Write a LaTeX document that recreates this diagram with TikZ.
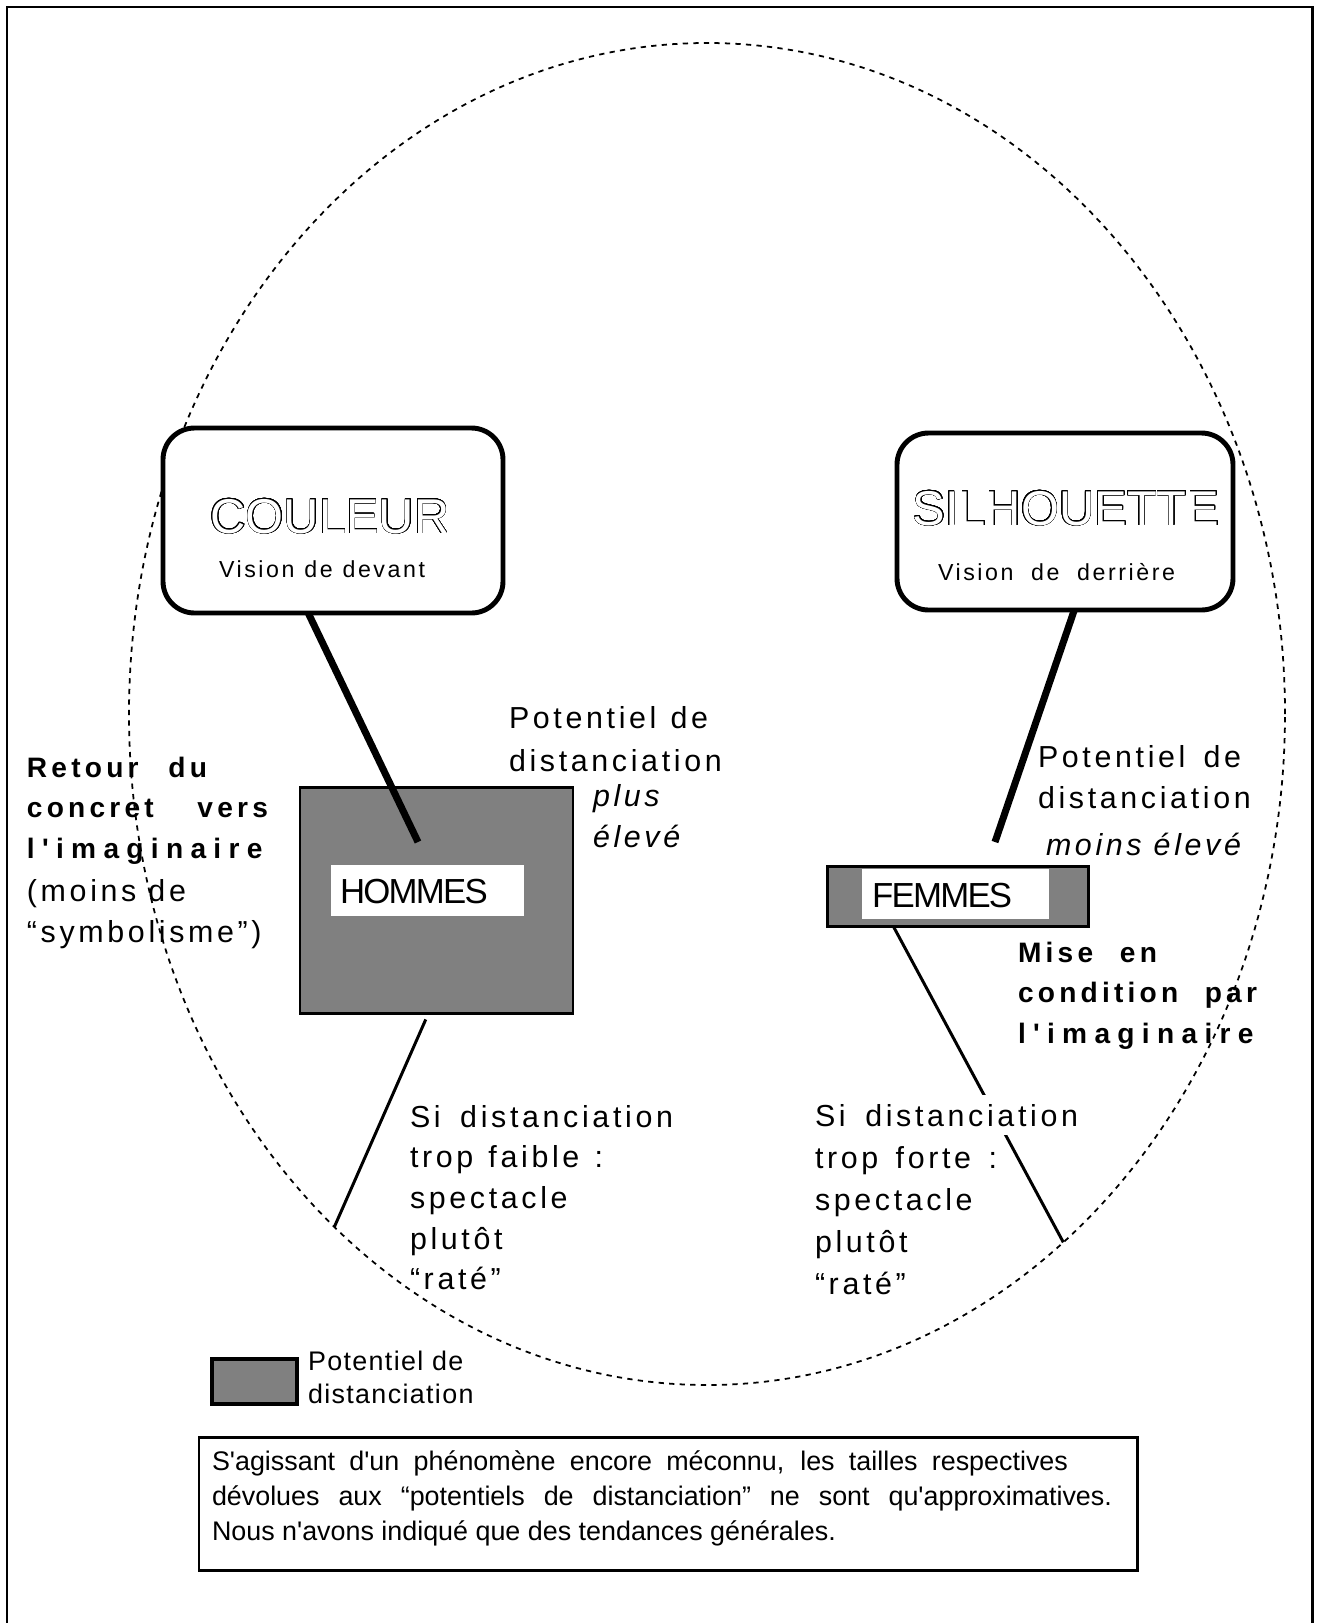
\documentclass[tikz,border=0pt]{standalone}
\usepackage{fontspec}
\usepackage{contour}
\usetikzlibrary{shapes.geometric,fit}

% Liberation Sans in several trackings
\newfontfamily\plainsans{Liberation Sans}
\newfontfamily\spaced[LetterSpace=12]{Liberation Sans}
\newfontfamily\widesp[LetterSpace=15]{Liberation Sans}
\newfontfamily\widersp[LetterSpace=26]{Liberation Sans}
\newfontfamily\lightsp[LetterSpace=11]{Liberation Sans}
\newfontfamily\tightsp[LetterSpace=-5]{Liberation Sans}
\newfontfamily\legendsp[LetterSpace=5]{Liberation Sans}

\definecolor{potgray}{HTML}{808080}

% one drawing unit
\newdimen\pxu \pxu=0.02cm
% stacked lines, baseline of the block = baseline of its first line
\newcommand\lines[2]{\vtop{\baselineskip=#1\pxu\lineskiplimit=-100pt\lineskip=0pt #2}}

\contourlength{0.38pt}
\contournumber{32}

\newcommand\textsize{\fontsize{17.3}{20}\selectfont}
\newcommand\boldsize{\fontsize{16}{20}\selectfont}

\tikzset{
  bubble/.style={draw, line width=2.8pt, rounded corners=18pt, fill=white, inner sep=0pt, outer sep=0pt},
  potential/.style={draw, line width=1.7pt, fill=potgray, inner sep=0pt, outer sep=0pt},
  tagbox/.style={fill=white, inner sep=0pt, outer sep=0pt},
  notebox/.style={draw, line width=1.7pt, inner sep=0pt, outer sep=0pt},
  oval/.style={draw, ellipse, line width=1pt, dash pattern=on 3pt off 3pt, inner sep=0pt, outer sep=0pt},
  heavy link/.style={line width=4pt},
  thin link/.style={line width=1.7pt},
  txt/.style={inner sep=0pt, outer sep=0pt, anchor=base west},
}

\begin{document}
\begin{tikzpicture}[x=0.02cm, y=-0.02cm]
\useasboundingbox (0,0) rectangle (1317,1623);

% outer frame
\draw[line width=1.7pt] (7,1623) -- (7,7) -- (1312,7) -- (1312,1623);

% dashed oval
\node[oval, minimum width=1156\pxu, minimum height=1342\pxu] (ring) at (707,714) {};

% the two rounded boxes
\node[bubble, fit={(163,428) (503,613)}] (couleur) {};
\node[bubble, fit={(897,433) (1233,610)}] (silhouette) {};

\node[txt, anchor=base] (couleurtitle) at (330,533)
  {\plainsans\fontsize{27.8}{30}\selectfont\color{white}\contour{black}{COULEUR}};
\node[txt] (couleursub) at (219,577)
  {\lightsp\fontsize{13.2}{16}\selectfont\hbox to 206\pxu{Vision\hfil de\hfil devant}};

\node[txt, anchor=base] (silhouettetitle) at (1066,525)
  {\plainsans\fontsize{27.8}{30}\selectfont\color{white}\contour{black}{SILHOUETTE}};
\node[txt] (silhouettesub) at (938,580)
  {\lightsp\fontsize{13.2}{16}\selectfont\hbox to 237\pxu{Vision\hfil de\hfil derrière}};

% potentials
\node[potential, fit={(300,787) (573,1013)}] (hommes) {};
\node[tagbox, fit={(331,865) (524,916)}] (hommestag) {};
\node[txt] (hommesname) at (340,903) {\tightsp\fontsize{19.8}{22}\selectfont HOMMES};

\node[potential, fit={(827,866) (1088,926)}] (femmes) {};
\node[tagbox, fit={(862,869) (1049,919)}] (femmestag) {};
\node[txt] (femmesname) at (872,907) {\tightsp\fontsize{19.8}{22}\selectfont FEMMES};

% connectors
\coordinate (hommesend) at (418,842);
\coordinate (femmesend) at (995,842);
\draw[heavy link] (couleur.255) -- (hommesend);
\draw[heavy link] (silhouette.276) -- (femmesend);
\draw[thin link, shorten <=4pt] (hommes.266) -- (ring.234);
\draw[thin link] (femmes.205) -- (ring.304);

% side texts
\node[txt] (retour) at (27,777) {\widesp\boldsize\lines{40.5}{%
  \hbox to 180\pxu{\bfseries Retour\hfil du}%
  \hbox to 241\pxu{\bfseries concret\hfil vers}%
  \hbox{\widersp\bfseries l'imaginaire}%
  \vskip 3\pxu
  \hbox{\spaced\textsize(moins de}%
  \hbox{\spaced\textsize “symbolisme”)}}};

\node[txt] (hommespot) at (509,728) {\spaced\textsize\lines{43}{%
  \hbox to 199\pxu{Potentiel\hfil de}%
  \hbox{distanciation}}};
\node[txt] (hommesplus) at (593,806) {\spaced\textsize\itshape\lines{41}{%
  \hbox{plus}\hbox{élevé}}};

\node[txt] (femmespot) at (1038,767) {\spaced\textsize\lines{41}{%
  \hbox to 203\pxu{Potentiel\hfil de}%
  \hbox{distanciation}}};
\node[txt] (femmesmoins) at (1046,855) {\spaced\textsize\itshape
  \hbox{moins élevé}};

\node[txt] (mise) at (1018,962) {\widesp\boldsize\bfseries\lines{40.5}{%
  \hbox to 139\pxu{Mise\hfil en}%
  \hbox to 239\pxu{condition\hfil par}%
  \hbox{\widersp\bfseries l'imaginaire}}};

\node[txt] (faible) at (410,1127) {\spaced\textsize\lines{40.7}{%
  \hbox to 263\pxu{Si\hfil distanciation}%
  \hbox to 193\pxu{trop\hfil faible\hfil :}%
  \hbox{spectacle}%
  \hbox{plutôt}%
  \hbox{“raté”}}};

\node[txt, fill=white, inner ysep=5pt] (forte) at (815,1126)
  {\spaced\textsize\hbox to 263\pxu{Si\hfil distanciation}};
\node[txt] (fortesuite) at (815,1168) {\spaced\textsize\lines{42}{%
  \hbox to 182\pxu{trop\hfil forte\hfil :}%
  \hbox{spectacle}%
  \hbox{plutôt}%
  \hbox{“raté”}}};

% legend
\node[potential, line width=2pt, fit={(212,1359) (297,1404)}] (legend) {};
\node[txt] (legendtext) at (308,1370) {\legendsp\fontsize{15.3}{18}\selectfont\lines{33}{%
  \hbox{Potentiel de}\hbox{distanciation}}};

% note
\node[notebox, fit={(199,1437) (1137,1570)}] (note) {};
\node[txt] (notetext) at (212,1470) {\plainsans\fontsize{15.3}{18}\selectfont\lines{35}{%
  \hbox to 856\pxu{S'agissant d'un phénomène encore méconnu, les tailles respectives}%
  \hbox to 900\pxu{dévolues aux “potentiels de distanciation” ne sont qu'approximatives.}%
  \hbox{Nous n'avons indiqué que des tendances générales.}}};
\end{tikzpicture}
\end{document}
